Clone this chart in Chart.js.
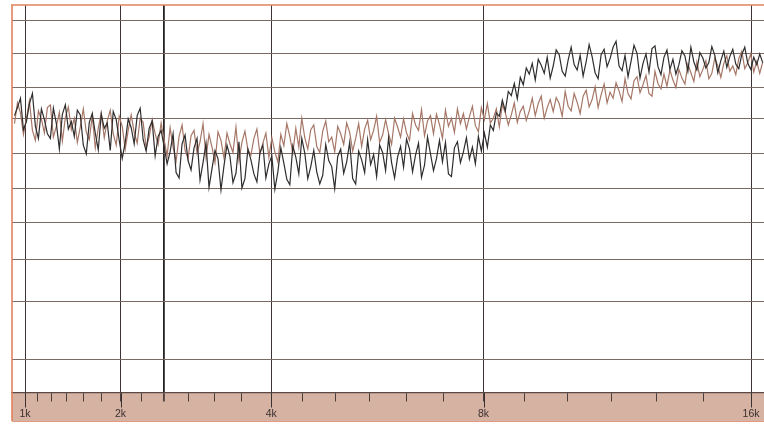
<!DOCTYPE html>
<html><head><meta charset="utf-8">
<script src="https://cdn.jsdelivr.net/npm/chart.js@4.4.1/dist/chart.umd.min.js"></script>
<style>html,body{margin:0;padding:0;background:#fff;overflow:hidden}#wrap{width:764px;height:425px}</style>
</head><body><div id="wrap"><canvas id="c" width="764" height="425"></canvas></div>
<script>
// sixth-octave tick frequencies (Hz) and their labels
const tickFreqs = [1000,1122,1260,1414,1587,1782,2000,2245,2520,2828,3175,3564,4000,4490,5040,5657,6350,7127,8000,8980,10079,11314,12699,14254,16000];
const tickLabels = ['1k','','','','','','2k','','','','','','4k','','','','','','8k','','','','','','16k'];
const markerFreqs = [1000,2000,2520,4000,8000,16000];
// horizontal grid levels (dB)
const gridLevels = [0,-5,-10,-14.7,-19.8,-25,-30.2,-35.7,-42,-50.6];
const freqMin = 877, freqMax = 16500, sampleStart = 900, sampleEnd = 16450;

const darkSeries = [
-14.2,-13.0,-11.6,-16.3,-15.1,-12.4,-10.9,-15.8,-17.6,-13.2,
-14.8,-16.9,-17.6,-13.1,-15.4,-19.2,-14.0,-12.6,-16.2,-15.1,
-17.3,-13.4,-14.1,-18.6,-19.9,-15.2,-13.9,-16.8,-19.3,-14.0,
-16.1,-15.3,-19.4,-13.6,-14.8,-17.9,-20.6,-18.2,-14.7,-16.0,
-18.4,-14.2,-13.1,-17.8,-19.5,-16.1,-15.0,-20.2,-17.3,-16.4,
-18.8,-21.4,-19.6,-16.9,-22.7,-23.5,-18.4,-17.1,-20.9,-22.3,
-19.0,-17.6,-23.8,-21.2,-18.3,-24.9,-22.1,-19.4,-20.6,-25.3,
-21.7,-18.6,-20.3,-24.2,-22.8,-18.1,-25.0,-23.6,-19.2,-20.8,
-22.9,-24.1,-19.8,-18.6,-23.5,-21.4,-20.2,-25.2,-22.6,-19.0,
-21.3,-23.7,-24.5,-18.7,-20.4,-22.9,-17.6,-19.8,-23.6,-21.8,
-19.4,-22.6,-24.4,-23.1,-18.5,-20.9,-21.8,-25.1,-20.3,-19.2,
-22.8,-21.1,-18.2,-23.6,-24.4,-19.5,-20.8,-22.7,-17.8,-21.5,
-20.0,-23.3,-18.6,-19.7,-22.4,-17.5,-21.2,-23.5,-20.4,-18.8,
-21.9,-17.7,-19.2,-22.6,-20.1,-18.3,-23.4,-21.6,-17.4,-19.9,
-22.4,-20.6,-17.9,-21.1,-18.2,-22.9,-23.3,-19.0,-18.1,-21.2,
-19.6,-17.5,-20.7,-18.9,-21.4,-17.3,-19.5,-16.8,-18.9,-15.6,
-16.4,-13.8,-14.3,-11.9,-13.5,-10.6,-11.2,-9.4,-11.7,-8.5,
-9.6,-7.1,-8.0,-6.4,-8.9,-5.8,-6.7,-7.9,-5.5,-8.6,
-6.8,-4.4,-5.1,-7.6,-8.3,-5.9,-4.0,-6.6,-7.4,-5.2,
-8.3,-6.2,-3.6,-5.4,-7.8,-8.7,-5.1,-4.3,-6.9,-5.7,
-4.0,-3.1,-6.8,-7.5,-5.2,-8.4,-6.1,-3.7,-4.9,-8.6,
-6.4,-5.0,-7.7,-4.2,-3.8,-6.9,-8.1,-5.5,-4.4,-7.3,
-5.8,-8.0,-6.6,-4.5,-5.3,-7.6,-4.0,-6.2,-7.4,-4.8,
-5.6,-7.1,-6.3,-3.9,-5.2,-7.8,-6.0,-4.6,-7.0,-5.4,
-4.3,-6.5,-7.2,-5.1,-4.0,-6.4,-7.3,-5.5,-6.6,-5.0,
-6.3];

const pinkSeries = [
-15.4,-12.3,-13.8,-17.0,-14.6,-12.0,-16.4,-17.9,-13.5,-14.7,
-16.8,-13.0,-12.6,-17.4,-15.8,-13.7,-18.0,-14.5,-12.9,-16.3,
-14.6,-18.2,-15.9,-13.2,-16.7,-17.8,-14.2,-19.0,-16.1,-13.8,
-17.5,-15.0,-13.4,-16.9,-18.6,-14.3,-15.8,-19.2,-16.4,-14.1,
-16.7,-18.3,-14.6,-15.2,-19.0,-17.4,-14.8,-16.9,-18.5,-15.3,
-17.8,-20.2,-16.0,-18.9,-21.0,-17.3,-15.6,-19.4,-20.6,-17.2,
-16.4,-19.8,-18.1,-15.4,-20.4,-17.0,-18.9,-21.2,-16.6,-17.9,
-20.5,-16.8,-18.4,-19.7,-15.9,-20.9,-18.2,-16.5,-19.3,-20.1,
-17.6,-16.2,-19.9,-18.3,-16.8,-20.4,-17.5,-19.6,-21.1,-17.0,
-18.7,-15.4,-17.3,-19.8,-16.1,-18.9,-14.6,-17.5,-19.2,-16.3,
-15.6,-18.8,-19.7,-16.5,-15.0,-18.1,-17.4,-19.6,-15.8,-16.9,
-18.5,-15.3,-16.7,-19.5,-17.6,-15.4,-18.8,-16.2,-14.9,-17.8,
-16.4,-14.3,-18.2,-17.1,-14.8,-16.9,-18.5,-14.6,-15.9,-17.4,
-14.7,-16.8,-17.9,-13.9,-15.6,-16.4,-13.3,-17.2,-15.0,-14.2,
-16.9,-14.0,-15.5,-17.6,-13.4,-15.8,-14.6,-16.7,-13.2,-15.4,
-13.9,-16.2,-14.4,-12.8,-15.7,-16.6,-13.0,-14.8,-12.4,-15.3,
-14.6,-13.2,-15.9,-12.5,-13.8,-15.6,-14.1,-12.3,-15.2,-13.6,
-12.8,-14.9,-13.5,-11.6,-14.2,-12.4,-11.3,-14.6,-13.0,-11.8,
-13.6,-11.5,-12.4,-14.3,-10.6,-12.8,-13.5,-10.9,-12.2,-13.9,
-11.3,-10.4,-12.9,-11.8,-9.9,-13.0,-11.1,-9.5,-12.3,-10.7,
-11.6,-9.3,-10.5,-12.1,-8.7,-10.9,-11.7,-9.0,-8.4,-10.8,
-9.6,-8.2,-10.9,-11.3,-7.6,-9.4,-10.2,-8.0,-9.8,-7.4,
-8.9,-10.0,-7.3,-8.6,-9.5,-6.5,-7.8,-9.1,-6.2,-8.4,
-7.3,-6.0,-8.7,-7.9,-5.6,-6.8,-8.5,-6.4,-5.3,-7.6,
-6.8,-8.1,-5.7,-4.6,-7.2,-6.3,-5.0,-7.7,-6.1,-7.9,
-6.2];

// frequency warp of the chart's horizontal axis
const warp = f => Math.log(1 + f / 4000);
function toPoints(vals){
  const a = warp(sampleStart), b = warp(sampleEnd), n = vals.length;
  return vals.map((v,i) => ({x: a + i*(b-a)/(n-1), y: v}));
}
const isMarker = i => markerFreqs.includes(tickFreqs[i]);

const decor = {
  id:'decor',
  beforeDraw(ch){
    const c = ch.ctx, a = ch.chartArea;
    c.save();
    c.fillStyle = '#d6b2a2';
    c.fillRect(a.left, a.bottom, ch.width - a.left, 421 - a.bottom);
    c.restore();
  },
  afterDraw(ch){
    const c = ch.ctx, a = ch.chartArea, xs = ch.scales.x;
    c.save();
    c.strokeStyle = '#3a3232'; c.lineWidth = 1;
    tickFreqs.forEach((f,i)=>{
      if(!tickLabels[i]) return;
      const x = Math.round(xs.getPixelForValue(warp(f))) + 0.5;
      c.beginPath(); c.moveTo(x, a.bottom); c.lineTo(x, a.bottom + 15); c.stroke();
    });
    c.strokeStyle = '#e0825e'; c.lineWidth = 1.6;
    c.beginPath(); c.moveTo(a.left - 1, a.top); c.lineTo(ch.width, a.top); c.stroke();
    c.beginPath(); c.moveTo(a.left, a.top); c.lineTo(a.left, 421); c.stroke();
    c.strokeStyle = '#e49a80'; c.lineWidth = 1.2;
    c.beginPath(); c.moveTo(a.left, 421.5); c.lineTo(ch.width, 421.5); c.stroke();
    c.restore();
  }
};

new Chart(document.getElementById('c'), {
  type:'line',
  data:{datasets:[
    {data: toPoints(darkSeries), borderColor:'#2f2c2c', borderWidth:1.2, pointRadius:0, tension:0},
    {data: toPoints(pinkSeries), borderColor:'#a67767', borderWidth:1.2, pointRadius:0, tension:0}
  ]},
  options:{
    responsive:false, animation:false, devicePixelRatio:1,
    layout:{padding:{left:12, top:5, right:0, bottom:0}},
    plugins:{legend:{display:false}, tooltip:{enabled:false}},
    scales:{
      x:{
        type:'linear', min: warp(freqMin), max: warp(freqMax),
        afterBuildTicks: s => { s.ticks = tickFreqs.map(f => ({value: warp(f)})); },
        afterFit: s => { s.height = 32.5; s.paddingLeft = 0; s.paddingRight = 0; },
        ticks:{autoSkip:false, maxRotation:0, padding:6, color:'#3a3030',
          font:{family:'Liberation Sans', size:10.5},
          callback:(v,i)=> tickLabels[i]},
        grid:{
          color: ctx => isMarker(ctx.index) ? (tickFreqs[ctx.index]===2520 ? '#262222' : '#3c3434') : 'rgba(0,0,0,0)',
          lineWidth: ctx => tickFreqs[ctx.index]===2520 ? 1.8 : 1,
          tickColor:'#4a3e3a', tickLength:9, drawTicks:true
        },
        border:{display:true, color:'#5a4844', width:1.2}
      },
      y:{
        type:'linear', min:-55.5, max:2.3,
        afterBuildTicks: s => { s.ticks = gridLevels.map(v => ({value:v})); },
        afterFit: s => { s.width = 0; },
        ticks:{display:false},
        grid:{color:'#7a6a66', lineWidth:1, drawTicks:false},
        border:{display:false}
      }
    }
  },
  plugins:[decor]
});
</script></body></html>
